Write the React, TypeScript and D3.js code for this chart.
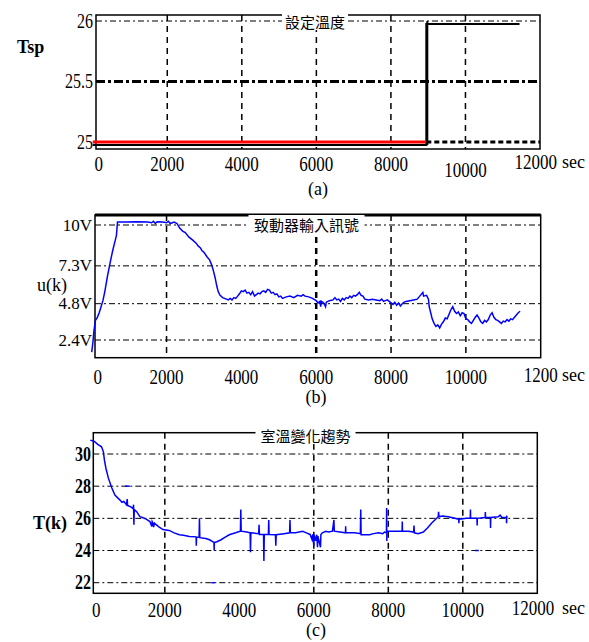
import React from 'react';
import * as d3 from 'd3';

// (a) setpoint
const tspSeries: [number, number][] = [[0, 25], [8950, 25], [8950, 26], [11450, 26]];
const refSeries: [number, number][] = [[0, 25], [8950, 25]];
const tspTicks = [25, 25.5, 26];
const tspTickLabels = ['25', '25.5', '26'];

// (b) actuator input u(k)
const uSeries: [number, number][] = [
  [0, 1.6], [30, 2.2], [60, 3.0], [100, 3.7], [150, 3.9], [200, 4.2], [250, 4.6], [300, 5.0], [350, 5.6],
  [420, 6.6], [500, 7.6], [560, 8.3], [620, 8.9], [660, 9.3], [690, 10.2], [900, 10.2], [1200, 10.22],
  [1500, 10.2], [1600, 10.15], [1650, 10.25], [1700, 10.1], [1750, 10.22], [1900, 10.2], [2000, 10.15],
  [2050, 10.25], [2100, 10.1], [2200, 10.2], [2280, 10.1], [2350, 9.8], [2430, 9.6], [2500, 9.5], [2600, 9.2],
  [2700, 9.0], [2790, 8.8], [2850, 8.6], [2900, 8.5], [2950, 8.3], [3000, 8.2], [3080, 7.9], [3150, 7.7],
  [3200, 7.4], [3250, 7.0], [3300, 6.5], [3340, 6.0], [3380, 5.6], [3430, 5.35], [3500, 5.2], [3600, 5.1],
  [3650, 5.05], [3700, 5.15], [3750, 5.05], [3800, 5.2], [3850, 5.15], [3900, 5.3], [3950, 5.45], [4000, 5.65],
  [4050, 5.6], [4100, 5.7], [4150, 5.5], [4200, 5.55], [4250, 5.4], [4300, 5.6], [4350, 5.3], [4400, 5.4],
  [4450, 5.5], [4500, 5.45], [4550, 5.6], [4600, 5.65], [4650, 5.55], [4700, 5.75], [4750, 5.7], [4800, 5.5],
  [4850, 5.55], [4900, 5.4], [4950, 5.45], [5000, 5.25], [5050, 5.3], [5100, 5.15], [5200, 5.25], [5300, 5.3],
  [5400, 5.2], [5500, 5.35], [5600, 5.3], [5650, 5.4], [5700, 5.3], [5800, 5.25], [5900, 5.15], [6000, 5.0],
  [6050, 4.85], [6100, 4.95], [6120, 4.6], [6140, 4.95], [6200, 4.85], [6250, 4.6], [6270, 4.9], [6350, 5.0],
  [6450, 5.05], [6500, 5.2], [6550, 5.05], [6600, 5.1], [6650, 4.95], [6700, 5.15], [6750, 5.05], [6800, 5.2],
  [6850, 5.15], [6900, 5.3], [6950, 5.2], [7000, 5.35], [7050, 5.3], [7100, 5.4], [7150, 5.55], [7200, 5.35],
  [7250, 5.3], [7300, 5.1], [7400, 5.05], [7500, 5.1], [7600, 5.05], [7700, 5.0], [7750, 5.1], [7800, 4.95],
  [7850, 5.0], [7900, 5.05], [7950, 4.95], [8000, 4.85], [8050, 4.75], [8100, 4.9], [8150, 4.7], [8200, 4.85],
  [8250, 4.65], [8300, 4.8], [8350, 4.9], [8400, 4.95], [8500, 5.0], [8600, 5.05], [8700, 5.1], [8750, 5.25],
  [8800, 5.4], [8850, 5.55], [8870, 5.3], [8950, 5.35], [9000, 5.1], [9020, 4.6], [9060, 4.2], [9100, 3.8],
  [9150, 3.5], [9200, 3.3], [9250, 3.4], [9300, 3.2], [9350, 3.45], [9400, 3.6], [9450, 3.85], [9500, 3.8],
  [9550, 4.1], [9600, 4.4], [9650, 4.6], [9700, 4.3], [9750, 4.15], [9800, 4.25], [9850, 4.0], [9900, 4.2],
  [9950, 4.15], [10000, 3.8], [10050, 3.75], [10100, 3.6], [10150, 3.5], [10200, 3.7], [10250, 3.9],
  [10300, 4.05], [10350, 3.85], [10400, 3.6], [10450, 3.5], [10500, 3.7], [10550, 3.6], [10600, 3.75],
  [10650, 4.05], [10700, 4.2], [10750, 3.9], [10800, 3.75], [10850, 3.7], [10900, 3.6], [10950, 3.5],
  [11000, 3.65], [11050, 3.6], [11100, 3.75], [11150, 3.65], [11200, 3.8], [11250, 3.75], [11300, 3.9],
  [11350, 4.05], [11400, 4.2], [11450, 4.3],
];
const uTicks = [2.4, 4.8, 7.3, 10];
const uTickLabels = ['2.4V', '4.8V', '7.3V', '10V'];

// (c) room temperature T(k)
const tSeries: [number, number][] = [
  [0, 30.85], [100, 30.8], [200, 30.6], [300, 30.45], [350, 30.15], [380, 29.6], [420, 29.1], [485, 28.5],
  [575, 27.9], [660, 27.45], [790, 27.15], [850, 27.0], [900, 27.05], [970, 26.85], [990, 27.2], [1000, 26.8],
  [1100, 26.7], [1150, 26.6], [1160, 26.85], [1170, 25.6], [1180, 26.55], [1250, 26.4], [1330, 26.1],
  [1400, 26.05], [1500, 25.95], [1600, 25.8], [1650, 25.5], [1660, 25.8], [1680, 25.7], [1700, 25.45],
  [1720, 25.7], [1800, 25.55], [1850, 25.45], [1950, 25.3], [2120, 25.25], [2250, 25.1], [2390, 24.98],
  [2500, 24.95], [2660, 24.87], [2840, 24.85], [2845, 24.3], [2850, 24.8], [2920, 24.85], [2930, 26.0],
  [2940, 24.8], [3100, 24.75], [3200, 24.67], [3320, 24.5], [3325, 24.0], [3330, 24.5], [3400, 24.55],
  [3510, 24.67], [3600, 24.8], [3730, 24.98], [3900, 25.1], [4030, 25.2], [4040, 26.55], [4050, 25.2],
  [4200, 25.15], [4290, 25.1], [4300, 23.9], [4310, 25.1], [4520, 25.05], [4530, 25.6], [4540, 25.0],
  [4650, 25.0], [4660, 23.35], [4670, 25.0], [4780, 25.0], [4790, 25.9], [4800, 25.0], [4970, 24.98],
  [4980, 24.3], [4990, 24.98], [5200, 25.05], [5350, 25.1], [5360, 25.9], [5370, 25.1], [5510, 25.1],
  [5700, 25.2], [5800, 25.1], [5900, 25.0], [5950, 24.7], [5970, 25.0], [6000, 24.3], [6010, 24.98],
  [6050, 24.6], [6080, 24.98], [6100, 24.2], [6110, 24.9], [6180, 24.2], [6190, 25.0], [6230, 25.1],
  [6320, 25.2], [6400, 25.15], [6500, 25.2], [6540, 25.9], [6550, 25.2], [6700, 25.15], [6850, 25.1],
  [6855, 25.5], [6860, 25.1], [7100, 25.1], [7250, 25.05], [7260, 26.55], [7270, 24.98], [7500, 24.98],
  [7600, 25.05], [7740, 25.1], [7850, 25.05], [7900, 25.15], [7950, 25.1], [7955, 26.65], [7960, 24.6],
  [7965, 25.2], [8200, 25.2], [8370, 25.2], [8375, 25.8], [8380, 25.2], [8540, 25.2], [8680, 25.15],
  [8690, 25.55], [8700, 25.1], [8800, 25.05], [8940, 25.15], [9050, 25.4], [9160, 25.7], [9250, 25.9],
  [9340, 26.1], [9350, 26.4], [9360, 26.1], [9450, 26.15], [9610, 26.1], [9700, 26.05], [9890, 25.95],
  [9895, 25.7], [9900, 25.95], [10100, 26.0], [10200, 26.0], [10205, 26.55], [10210, 26.0], [10380, 26.0],
  [10385, 25.55], [10390, 26.0], [10600, 26.05], [10605, 26.4], [10610, 26.05], [10740, 26.05],
  [10745, 25.4], [10750, 26.05], [10950, 26.1], [11000, 26.2], [11050, 26.05], [11170, 26.05],
  [11175, 25.7], [11180, 26.1], [11200, 26.05],
];
// short stray marks: [t0, t1, value]
const tStray: [number, number, number][] = [[930, 1060, 28], [3250, 3340, 22], [10330, 10430, 24]];
const tTicks = [22, 24, 26, 28, 30];
const tTickLabels = ['22', '24', '26', '28', '30'];

const xTicks = [0, 2000, 4000, 6000, 8000, 10000, 12000];

const serif = '"Liberation Serif", "DejaVu Serif", serif';
const cjk = '"Noto Sans CJK TC", "Noto Sans CJK SC", sans-serif';

function Label({ x, y, size, sx = 1, anchor = 'middle', weight = 'normal', family = serif, children }: any) {
  return (
    <text
      transform={`translate(${x},${y}) scale(${sx},1)`}
      textAnchor={anchor}
      dominantBaseline="central"
      fontSize={size}
      fontWeight={weight}
      fontFamily={family}
      fill="#000"
    >
      {children}
    </text>
  );
}

function Title({ cx, cy, w, children }: any) {
  return (
    <g>
      <rect x={cx - w / 2 - 2} y={cy - 9} width={w + 4} height={18} fill="#fff" />
      <Label x={cx} y={cy} size={15} family={cjk}>{children}</Label>
    </g>
  );
}

export default function App() {
  // panel (a)
  const xA = d3.scaleLinear().domain([88, 12000]).range([96, 540]);
  const yA = d3.scaleLinear().domain([25, 26]).range([142, 21]);
  // panel (b)
  const xB = d3.scaleLinear().domain([88, 12000]).range([95, 540.7]);
  const yB = d3.scaleLinear().domain([2.4, 10]).range([340, 225]);
  // panel (c)
  const xC = d3.scaleLinear().domain([80, 12000]).range([93.3, 537.3]);
  const yC = d3.scaleLinear().domain([22, 30]).range([582.7, 454]);

  const lineA = d3.line<[number, number]>().x(d => xA(d[0])).y(d => yA(d[1]));
  const lineB = d3.line<[number, number]>().x(d => xB(d[0])).y(d => yB(d[1]));
  const lineC = d3.line<[number, number]>().x(d => xC(d[0])).y(d => yC(d[1]));

  const frameA = { l: 96, r: 540, t: 15, b: 149 };
  const frameB = { l: 95, r: 540.7, t: 215, b: 357.7 };
  const frameC = { l: 93.3, r: 537.3, t: 432.7, b: 593.3 };

  const xLabels = (sc: any, y: number, last: string, drop10k = 0) => (
    <g>
      {xTicks.map((t, i) => {
        if (t === 0) return <Label key={i} x={sc(0) + 6} y={y} size={20} sx={0.85}>0</Label>;
        if (t === 12000) return null;
        const dy = t === 10000 ? drop10k : 0;
        return <Label key={i} x={sc(t)} y={y + dy} size={20} sx={0.85}>{String(t)}</Label>;
      })}
      <Label x={sc(12000) + 17} y={y - 2} size={20} sx={0.85} anchor="end">{last}</Label>
      <Label x={562} y={y - 2} size={18} anchor="start">sec</Label>
    </g>
  );

  return (
    <svg width={589} height={642} style={{ position: 'absolute', left: 0, top: 0, background: '#fff' }}>
      <rect width={589} height={642} fill="#fff" />

      {/* ---------- (a) ---------- */}
      <g>
        {[2000, 4000, 6000, 8000, 10000].map(t => (
          <line key={t} x1={xA(t)} x2={xA(t)} y1={frameA.t} y2={frameA.b} stroke="#000" strokeWidth={1.5} strokeDasharray="6,5" />
        ))}
        <line x1={frameA.l} x2={frameA.r} y1={yA(26)} y2={yA(26)} stroke="#000" strokeWidth={1} strokeDasharray="6,3,2,3" />
        <line x1={frameA.l} x2={frameA.r} y1={yA(25.5)} y2={yA(25.5)} stroke="#000" strokeWidth={3} strokeDasharray="9,3,3,3" />
        <line x1={xA(8950)} x2={frameA.r} y1={yA(25)} y2={yA(25)} stroke="#000" strokeWidth={3} strokeDasharray="5,3" />
        <rect x={frameA.l} y={frameA.t} width={frameA.r - frameA.l} height={frameA.b - frameA.t} fill="none" stroke="#000" strokeWidth={1.5} />
        <path d={lineA(tspSeries) || ''} transform="translate(0,3)" fill="none" stroke="#000" strokeWidth={2} />
        <path d={lineA(refSeries) || ''} fill="none" stroke="#ff0000" strokeWidth={3} />
        <line x1={xA(8950) + 1} x2={xA(8950) + 1} y1={yA(26)} y2={yA(25) + 3} stroke="#000" strokeWidth={2} />
        <Title cx={315} cy={21} w={62}>設定溫度</Title>
        {tspTicks.map((t, i) => (
          <Label key={t} x={93} y={yA(t)} size={20} sx={0.8} anchor="end">{tspTickLabels[i]}</Label>
        ))}
        <Label x={17} y={47} size={18} weight="bold" anchor="start">Tsp</Label>
        {xLabels(xA, 164, '12000', 6)}
        <Label x={318} y={189} size={18}>(a)</Label>
      </g>

      {/* ---------- (b) ---------- */}
      <g>
        {[2000, 6000, 8000, 10000].map(t => (
          <line key={t} x1={xB(t)} x2={xB(t)} y1={frameB.t} y2={frameB.b} stroke="#000"
            strokeWidth={t === 6000 ? 2.5 : 1.5} strokeDasharray="6,5" />
        ))}
        {uTicks.map(t => (
          <line key={t} x1={frameB.l} x2={frameB.r} y1={yB(t)} y2={yB(t)} stroke="#000" strokeWidth={1} strokeDasharray="6,3,2,3" />
        ))}
        <rect x={frameB.l} y={frameB.t} width={frameB.r - frameB.l} height={frameB.b - frameB.t} fill="none" stroke="#000" strokeWidth={1.5} />
        <line x1={frameB.l} x2={frameB.r} y1={frameB.t} y2={frameB.t} stroke="#000" strokeWidth={3} />
        <path d={lineB(uSeries) || ''} fill="none" stroke="#0000ff" strokeWidth={1.5} />
        <Title cx={306.5} cy={224} w={112}>致動器輸入訊號</Title>
        {uTicks.map((t, i) => (
          <Label key={t} x={92} y={yB(t)} size={17} anchor="end">{uTickLabels[i]}</Label>
        ))}
        <Label x={37} y={285} size={18} anchor="start">u(k)</Label>
        {xLabels(xB, 377, '1200')}
        <Label x={316} y={397} size={18}>(b)</Label>
      </g>

      {/* ---------- (c) ---------- */}
      <g>
        {[2000, 6000, 8000, 10000].map(t => (
          <line key={t} x1={xC(t)} x2={xC(t)} y1={frameC.t} y2={frameC.b} stroke="#000" strokeWidth={1.5} strokeDasharray="6,5" />
        ))}
        {tTicks.map(t => (
          <line key={t} x1={frameC.l} x2={frameC.r} y1={yC(t)} y2={yC(t)} stroke="#000" strokeWidth={1} strokeDasharray="6,3,2,3" />
        ))}
        <rect x={frameC.l} y={frameC.t} width={frameC.r - frameC.l} height={frameC.b - frameC.t} fill="none" stroke="#000" strokeWidth={1.5} />
        <path d={lineC(tSeries) || ''} fill="none" stroke="#0000ff" strokeWidth={1.5} />
        {tStray.map((s, i) => (
          <line key={i} x1={xC(s[0])} x2={xC(s[1])} y1={yC(s[2])} y2={yC(s[2])} stroke="#0000ff" strokeWidth={1.5} />
        ))}
        <Title cx={305.5} cy={435} w={96}>室溫變化趨勢</Title>
        {tTicks.map((t, i) => (
          <Label key={t} x={91} y={yC(t)} size={20} sx={0.8} weight="bold" anchor="end">{tTickLabels[i]}</Label>
        ))}
        <Label x={33} y={523} size={18} weight="bold" anchor="start">T(k)</Label>
        {xLabels(xC, 610, '12000')}
        <Label x={316} y={630} size={18}>(c)</Label>
      </g>
    </svg>
  );
}
